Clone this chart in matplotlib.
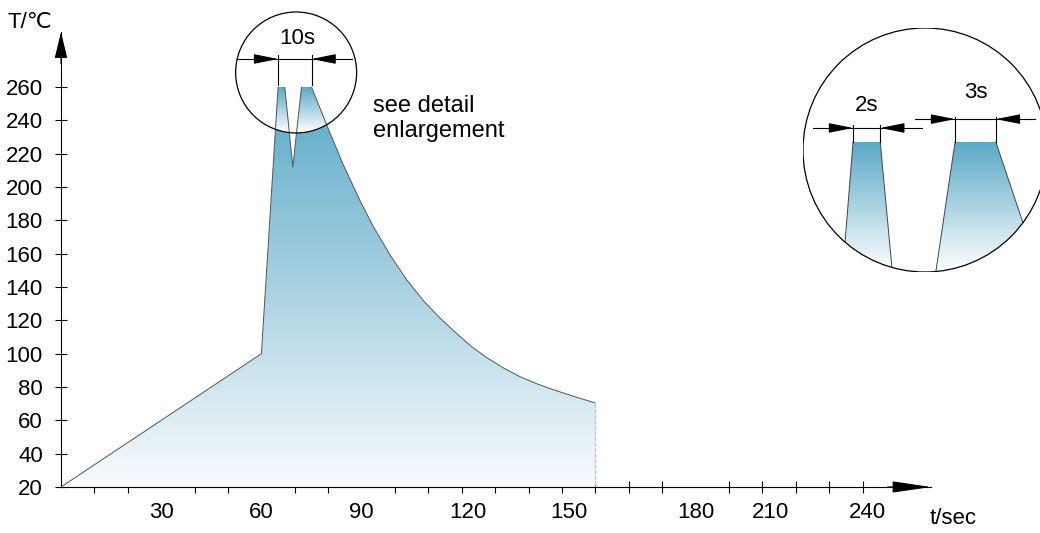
import numpy as np
import matplotlib
matplotlib.use('Agg')
import matplotlib.pyplot as plt
from matplotlib.colors import LinearSegmentedColormap, to_rgb
from matplotlib.patches import Polygon, Ellipse, Circle, PathPatch
from matplotlib.path import Path

plt.rcParams['font.family'] = ['Liberation Sans', 'DejaVu Sans']

# ---------------- data ----------------
time_s = [0, 60, 65, 67, 69.4, 72, 75, 80, 84.5, 89.5, 93.5, 98.5, 103.5,
          108.5, 113.5, 119, 123, 127.5, 132.5, 137.5, 142.5, 147.5, 153.5, 160]
temp_c = [20, 100, 260, 260, 212, 260, 260, 235, 213.4, 191.9, 176.3, 159.3,
          144.3, 131.8, 121.3, 111.1, 104.1, 97.6, 91.4, 86.1, 81.9, 78.3, 74.4, 70.4]
x_tick_labels = ['30', '60', '90', '120', '150', '180', '210', '240']
x_tick_pos = [30, 60, 90, 121.7, 152, 190, 212.5, 241.5]
x_minor_ticks = list(range(10, 250, 10))
y_ticks = list(range(20, 261, 20))

# detail enlargement (schematic, own coordinates: seconds / degC)
inset_peak1_t = [-0.81, 0, 2, 2.94]
inset_peak1_T = [207, 260, 260, 207]
inset_peak2_t = [6.0, 7.5, 10.5, 13.9]
inset_peak2_T = [207, 260, 260, 207]
inset_labels = ['2s', '3s']

BLUE = '#5aa9c7'
LIGHT = '#f8fbfd'

W, H = 1040, 533
fig = plt.figure(figsize=(W / 100, H / 100), dpi=100)

# main axes: x 0 at px 61, 3.34 px/s ; y 20 at px 487, 1.6667 px/degC
PXX, PXY = 3.34, 1.6667
ax = fig.add_axes([61 / W, 46 / H, 870 / W, 455 / H])
ax.set_xlim(0, 870 / PXX)
ax.set_ylim(20, 20 + 455 / PXY)
for s in ['top', 'right']:
    ax.spines[s].set_visible(False)
for s in ['left', 'bottom']:
    ax.spines[s].set_linewidth(0.8)

ax.set_xticks(x_tick_pos)
ax.set_xticklabels(x_tick_labels)
ax.set_xticks(x_minor_ticks, minor=True)
ax.tick_params(axis='x', which='major', length=0, labelsize=16, pad=11)
ax.tick_params(axis='x', which='minor', direction='inout', length=8, width=0.8)
ax.set_yticks(y_ticks)
ax.tick_params(axis='y', which='major', direction='inout', length=8, width=0.8,
               labelsize=16, pad=9)

# axis arrowheads
ax.annotate('', xy=(1, 0), xytext=(0.95, 0), xycoords='axes fraction',
            arrowprops=dict(arrowstyle='-|>,head_length=2.45,head_width=0.36',
                            mutation_scale=10, fc='k', ec='k', lw=0.8,
                            shrinkA=0, shrinkB=0), annotation_clip=False)
ax.annotate('', xy=(0, 1), xytext=(0, 0.93), xycoords='axes fraction',
            arrowprops=dict(arrowstyle='-|>,head_length=1.66,head_width=0.4',
                            mutation_scale=10, fc='k', ec='k', lw=0.8,
                            shrinkA=0, shrinkB=0), annotation_clip=False)

# profile polygon + gradient
verts = list(zip(time_s, temp_c)) + [(time_s[-1], temp_c[0])]
poly = Polygon(verts, closed=True, facecolor='none', edgecolor='none')
ax.add_patch(poly)
cmap = LinearSegmentedColormap.from_list('g', [LIGHT, BLUE])
grad = np.linspace(0, 1, 256).reshape(-1, 1)
im = ax.imshow(grad, cmap=cmap, origin='lower', aspect='auto',
               extent=(0, time_s[-1], 20, max(temp_c)), zorder=2,
               interpolation='bilinear')
im.set_clip_path(poly)

# circle around peaks (in data units an ellipse)
tc, Tc = 70.4, 268.7
rx, ry = 60.5 / PXX, 60.5 / PXY
nt, nT = 300, 300
tt = np.linspace(tc - rx, tc + rx, nt)
TT = np.linspace(Tc - ry, Tc + ry, nT)
TG, TTg = np.meshgrid(tt, TT)
inside = ((TG - tc) / rx) ** 2 + ((TTg - Tc) / ry) ** 2 <= 1
frac = np.clip((TTg - (Tc - ry)) / (max(temp_c) - (Tc - ry)), 0, 1)
b = np.array(to_rgb(BLUE))
wcol = np.array([1.0, 1.0, 1.0])
rgba = np.zeros((nT, nt, 4))
rgba[..., :3] = wcol * (1 - frac[..., None]) + b * frac[..., None]
rgba[..., 3] = inside.astype(float)
im2 = ax.imshow(rgba, origin='lower', aspect='auto',
                extent=(tc - rx, tc + rx, Tc - ry, Tc + ry), zorder=2.2,
                interpolation='bilinear')
im2.set_clip_path(poly)
ax.set_xlim(0, 870 / PXX)
ax.set_ylim(20, 20 + 455 / PXY)

# outline (no line on the peak tops)
edge_kw = dict(color='#555555', lw=0.7, zorder=3, solid_capstyle='butt',
               solid_joinstyle='round')
ax.plot(time_s[0:3], temp_c[0:3], **edge_kw)
ax.plot(time_s[3:6], temp_c[3:6], **edge_kw)
ax.plot(time_s[6:], temp_c[6:], **edge_kw)
ax.plot([time_s[-1], time_s[-1]], [temp_c[-1], temp_c[0]], color='#c8c8c8',
        lw=1.0, ls=(0, (3, 1)), zorder=3)

ax.add_patch(Ellipse((tc, Tc), 2 * rx, 2 * ry, fill=False, ec='k', lw=0.9,
                     clip_on=False, zorder=5))

# 10s dimension
dim_T = 276.8
t_a, t_b = time_s[2], time_s[6]
ax.plot([52.7, 87.1], [dim_T, dim_T], color='k', lw=0.8, clip_on=False, zorder=5)
for tv in (t_a, t_b):
    ax.plot([tv, tv], [261.2, 279.2], color='k', lw=0.8, clip_on=False, zorder=5)
aprops = dict(arrowstyle='-|>,head_length=1.5,head_width=0.3', mutation_scale=10,
              fc='k', ec='k', lw=0.8, shrinkA=0, shrinkB=0)
ax.annotate('', xy=(t_a, dim_T), xytext=(59, dim_T), arrowprops=aprops,
            annotation_clip=False, zorder=5)
ax.annotate('', xy=(t_b, dim_T), xytext=(81.1, dim_T), arrowprops=aprops,
            annotation_clip=False, zorder=5)
ax.text(70.8, 288.8, '10s', ha='center', va='center', fontsize=16, clip_on=False)

ax.text(93.4, 241.1, 'see detail\nenlargement', ha='left', va='center',
        fontsize=17, linespacing=1.2)

fig.text(8 / W, 1 - 22 / H, 'T/℃', ha='left', va='center', fontsize=16)
fig.text(930 / W, 1 - 519 / H, 't/sec', ha='left', va='center', fontsize=16)

# ---------------- detail enlargement ----------------
IX, IY = 13.6, 2.6
axi = fig.add_axes([803 / W, (H - 272) / H, 244 / W, 244 / H])
axi.set_xlim(-3.68, -3.68 + 244 / IX)
axi.set_ylim(210, 210 + 244 / IY)
axi.axis('off')
axi.patch.set_alpha(0)
circ = Circle((0.5, 0.5), 0.5, transform=axi.transAxes, fill=False, ec='k',
              lw=0.9, zorder=5)
axi.add_patch(circ)

p1 = list(zip(inset_peak1_t, inset_peak1_T))
p2 = list(zip(inset_peak2_t, inset_peak2_T))
codes = [Path.MOVETO, Path.LINETO, Path.LINETO, Path.LINETO, Path.CLOSEPOLY] * 2
pverts = p1 + [p1[0]] + p2 + [p2[0]]
tpatch = PathPatch(Path(pverts, codes), facecolor='none', edgecolor='none')
axi.add_patch(tpatch)

x0, x1 = axi.get_xlim()
y0, y1 = axi.get_ylim()
nx, ny = 300, 300
xs = np.linspace(x0, x1, nx)
ys = np.linspace(y0, 260, ny)
XG, YG = np.meshgrid(xs, ys)
cx, cy = (x0 + x1) / 2, (y0 + y1) / 2
rxi, ryi = (x1 - x0) / 2, (y1 - y0) / 2
ins = ((XG - cx) / rxi) ** 2 + ((YG - cy) / ryi) ** 2 <= 1
fr = np.clip((YG - y0) / (260 - y0), 0, 1)
rg = np.zeros((ny, nx, 4))
rg[..., :3] = wcol * (1 - fr[..., None]) + b * fr[..., None]
rg[..., 3] = ins.astype(float)
im3 = axi.imshow(rg, origin='lower', aspect='auto', extent=(x0, x1, y0, 260),
                 zorder=2, interpolation='bilinear')
im3.set_clip_path(tpatch)
axi.set_xlim(x0, x1)
axi.set_ylim(y0, y1)

for pt, pT in ((inset_peak1_t, inset_peak1_T), (inset_peak2_t, inset_peak2_T)):
    for i0, i1 in ((0, 1), (2, 3)):
        ln, = axi.plot([pt[i0], pt[i1]], [pT[i0], pT[i1]], color='#444444',
                       lw=0.7, zorder=3)
        ln.set_clip_path(circ)

# inset dimensions
dims = [
    (inset_peak1_t[1], inset_peak1_t[2], 265.4, -2.94, 5.07, 1.6, 266.5, 274.2),
    (inset_peak2_t[1], inset_peak2_t[2], 268.8, 4.56, 13.4, 1.6, 269.6, 279.2),
]
for (ta, tb, dy, lx0, lx1, alen, ttop, ty), lab in zip(dims, inset_labels):
    axi.plot([lx0, lx1], [dy, dy], color='k', lw=0.8, clip_on=False, zorder=5)
    for tv in (ta, tb):
        axi.plot([tv, tv], [260, ttop], color='k', lw=0.8, clip_on=False, zorder=5)
    axi.annotate('', xy=(ta, dy), xytext=(ta - alen, dy), arrowprops=aprops,
                 annotation_clip=False, zorder=5)
    axi.annotate('', xy=(tb, dy), xytext=(tb + alen, dy), arrowprops=aprops,
                 annotation_clip=False, zorder=5)
    axi.text((ta + tb) / 2, ty, lab, ha='center', va='center', fontsize=16)

fig.savefig('out.png', dpi=100)
